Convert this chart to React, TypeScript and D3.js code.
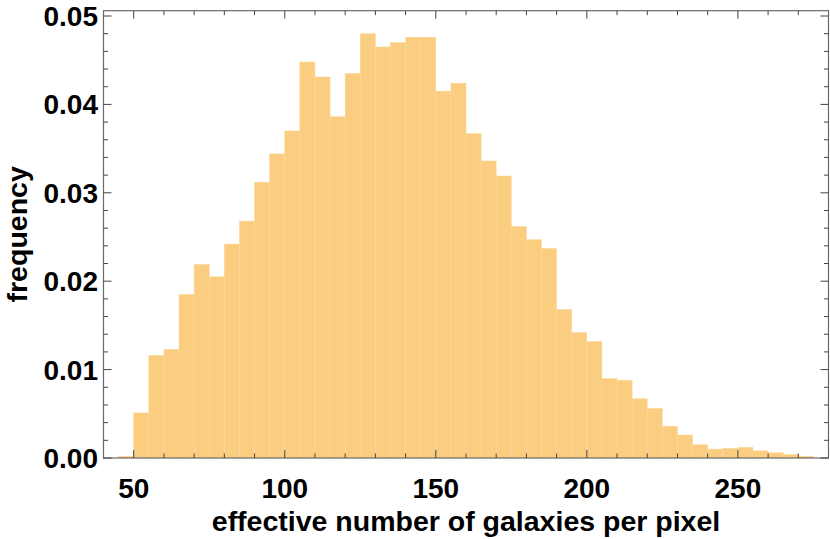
import React from 'react';
import * as d3 from 'd3';

// histogram bins (lower edge, width 5) and frequency per bin
const binStarts = [
  45, 50, 55, 60, 65, 70, 75, 80, 85, 90, 95, 100, 105, 110, 115, 120, 125, 130,
  135, 140, 145, 150, 155, 160, 165, 170, 175, 180, 185, 190, 195, 200, 205, 210,
  215, 220, 225, 230, 235, 240, 245, 250, 255, 260, 265, 270,
];
const frequencies = [
  0.0002, 0.0051, 0.0116, 0.0123, 0.0185, 0.0219, 0.0205, 0.0242, 0.0268, 0.0312,
  0.0344, 0.037, 0.0448, 0.0431, 0.0386, 0.0435, 0.048, 0.0465, 0.047, 0.0476,
  0.0476, 0.0415, 0.0424, 0.0367, 0.0336, 0.0319, 0.0262, 0.0247, 0.0237, 0.0168,
  0.0142, 0.0132, 0.009, 0.0088, 0.0067, 0.0056, 0.0036, 0.0026, 0.0015, 0.001,
  0.0011, 0.0012, 0.0008, 0.0006, 0.0004, 0.0002,
];
const binWidth = 5;

const xMajorTicks = [50, 100, 150, 200, 250];
const xMinorTicks = [60, 70, 80, 90, 110, 120, 130, 140, 160, 170, 180, 190, 210, 220, 230, 240, 260, 270];
const yMajorTicks = [0, 0.01, 0.02, 0.03, 0.04, 0.05];
const yMinorTicks = [
  0.002, 0.004, 0.006, 0.008, 0.012, 0.014, 0.016, 0.018, 0.022, 0.024, 0.026, 0.028,
  0.032, 0.034, 0.036, 0.038, 0.042, 0.044, 0.046, 0.048,
];

const W = 830;
const H = 539;
const left = 103.5, right = 828.5, top = 10.7, bottom = 458;
const font = '"Liberation Sans", Arial, sans-serif';

export default function App() {
  const x = d3.scaleLinear().domain([40, 280]).range([left, right]);
  const y = d3.scaleLinear().domain([0, 0.0506]).range([bottom, top]);
  const bars = binStarts.map((b, i) => ({ x0: b, x1: b + binWidth, v: frequencies[i] }));
  const fmt = d3.format('.2f');
  const tickColor = '#444';
  const major = 8, minor = 4.5;

  return (
    <svg width={W} height={H} style={{ position: 'absolute', left: 0, top: 0, background: '#fff' }}>
      {/* bars */}
      <g>
        {bars.map((d, i) => (
          <rect key={i}
            x={x(d.x0)} width={x(d.x1) - x(d.x0)}
            y={y(d.v)} height={bottom - y(d.v)}
            fill="#FBCD80" stroke="#FCD799" strokeWidth={0.5} />
        ))}
      </g>

      {/* frame */}
      <rect x={left} y={top} width={right - left} height={bottom - top}
        fill="none" stroke="#6a6a6a" strokeWidth={1.2} />

      {/* ticks on all four sides, pointing inward */}
      <g stroke={tickColor} strokeWidth={1}>
        {xMajorTicks.map(t => (
          <g key={'xM' + t}>
            <line x1={x(t)} x2={x(t)} y1={bottom} y2={bottom - major} />
            <line x1={x(t)} x2={x(t)} y1={top} y2={top + major} />
          </g>
        ))}
        {xMinorTicks.map(t => (
          <g key={'xm' + t}>
            <line x1={x(t)} x2={x(t)} y1={bottom} y2={bottom - minor} />
            <line x1={x(t)} x2={x(t)} y1={top} y2={top + minor} />
          </g>
        ))}
        {yMajorTicks.map(t => (
          <g key={'yM' + t}>
            <line x1={left} x2={left + major} y1={y(t)} y2={y(t)} />
            <line x1={right} x2={right - major} y1={y(t)} y2={y(t)} />
          </g>
        ))}
        {yMinorTicks.map(t => (
          <g key={'ym' + t}>
            <line x1={left} x2={left + minor} y1={y(t)} y2={y(t)} />
            <line x1={right} x2={right - minor} y1={y(t)} y2={y(t)} />
          </g>
        ))}
      </g>

      {/* tick labels */}
      <g fontFamily={font} fontWeight="bold" fontSize={28} fill="#000">
        {xMajorTicks.map(t => (
          <text key={'xl' + t} x={x(t)} y={498} textAnchor="middle">{t}</text>
        ))}
        {yMajorTicks.map(t => (
          <text key={'yl' + t} x={98} y={y(t) + 10} textAnchor="end">{fmt(t)}</text>
        ))}
      </g>

      {/* axis titles */}
      <text x={(left + right) / 2} y={531} textAnchor="middle"
        fontFamily={font} fontWeight="bold" fontSize={28.5}>
        effective number of galaxies per pixel
      </text>
      <text transform={`translate(27,${(top + bottom) / 2}) rotate(-90)`} textAnchor="middle"
        fontFamily={font} fontWeight="bold" fontSize={28.5}>
        frequency
      </text>
    </svg>
  );
}
